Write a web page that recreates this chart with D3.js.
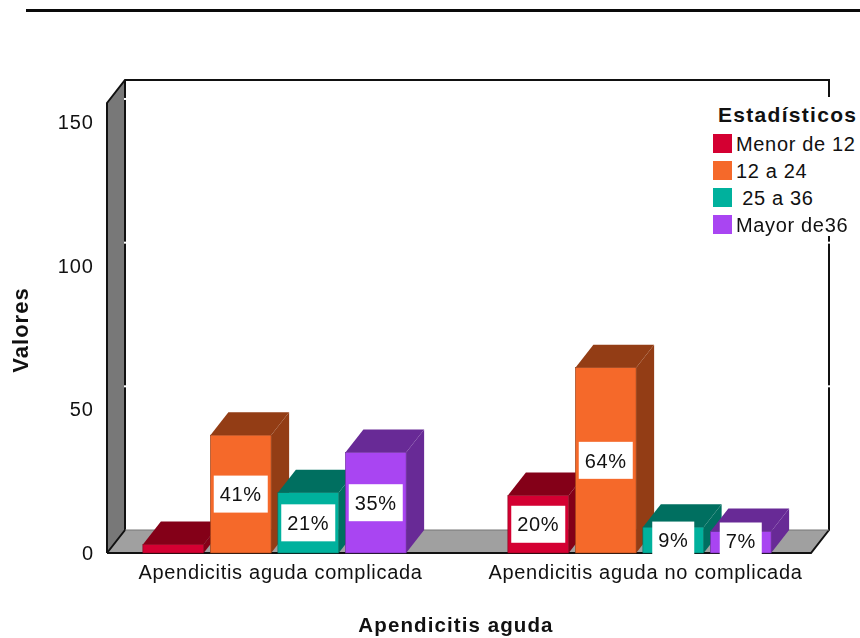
<!DOCTYPE html>
<html><head><meta charset="utf-8">
<script src="https://cdn.jsdelivr.net/npm/d3@7"></script>
<style>html,body{margin:0;padding:0;background:#fff}svg{display:block;filter:blur(0.4px)}text{font-family:"Liberation Sans",Arial,sans-serif;fill:#111}</style>
</head><body><svg id="c" width="860" height="638"></svg>
<script>
const categories = ["Apendicitis aguda complicada","Apendicitis aguda no complicada"];
const seriesNames = ["Menor de 12","12 a 24"," 25 a 36","Mayor de36"];
const menor12 = [3,20];
const de12a24 = [41,64.5];
const de25a36 = [21,9];
const mayor36 = [35,7.5];
const barLabels = [[null,"20%"],["41%","64%"],["21%","9%"],["35%","7%"]];
const seriesValues = [menor12,de12a24,de25a36,mayor36];
const frontColors = ["#d40032","#f5692a","#00b19d","#a945f2"];
const topColors = ["#840018","#933d15","#006f60","#682a96"];
const yTicks = [0,50,100,150];
const yAxisMax = 156.6;

const svg = d3.select("#c");
const dx = 18, dy = 23;
const y = d3.scaleLinear().domain([0,yAxisMax]).range([553,103]);
const x0 = d3.scaleBand().domain(categories).range([92,822]);
const x1 = d3.scaleBand().domain(d3.range(seriesNames.length)).range([0,270]).paddingInner(0.1).paddingOuter(0.05);
const L = 107, R = 811, B = y(0), T = y(yAxisMax);
const poly = p => p.map(q=>q.join(",")).join(" ");

// top rule
svg.append("rect").attr("x",26).attr("y",9).attr("width",834).attr("height",3).attr("fill","#0a0a0a");

// walls
svg.append("polygon").attr("points",poly([[L,T],[L+dx,T-dy],[L+dx,B-dy],[L,B]])).attr("fill","#787878");
svg.append("polygon").attr("points",poly([[L,B],[L+dx,B-dy],[R+dx,B-dy],[R,B]])).attr("fill","#a0a0a0");
const frame = svg.append("g").attr("fill","none").attr("stroke","#111").attr("stroke-width",2);
frame.append("path").attr("d",`M${L},${B}V${T}L${L+dx},${T-dy}H${R+dx}V${B-dy}L${R},${B}H${L}`);
frame.append("path").attr("d",`M${L+dx},${T-dy}V${B-dy}L${L},${B}`);
frame.append("path").attr("d",`M${L+dx},${B-dy}H${R+dx}`).attr("stroke-width",1).attr("stroke","#777");
// white grid ticks on the back wall edges
svg.append("g").selectAll("rect").data(yTicks.slice(1).flatMap(t=>[[L+dx,t],[R+dx,t]])).join("rect")
  .attr("x",d=>d[0]-1).attr("y",d=>y(d[1])-dy-1).attr("width",2).attr("height",2).attr("fill","#fff");

// bars
const bw = x1.bandwidth();
const bars = svg.append("g");
categories.forEach((cat,ci)=>{
  seriesValues.forEach((vals,si)=>{
    const xl = x0(cat)+x0.bandwidth()/2-135+x1(si), xr = xl+bw, yt = y(vals[ci]);
    bars.append("polygon").attr("points",poly([[xl,yt],[xl+dx,yt-dy],[xr+dx,yt-dy],[xr,yt]])).attr("fill",topColors[si]);
    bars.append("polygon").attr("points",poly([[xr,yt],[xr+dx,yt-dy],[xr+dx,B-dy],[xr,B]])).attr("fill",topColors[si]);
    bars.append("rect").attr("x",xl).attr("y",yt).attr("width",bw).attr("height",B-yt).attr("fill",frontColors[si]).attr("stroke",topColors[si]).attr("stroke-width",0.6);
  });
});
// bar labels
const labels = svg.append("g");
categories.forEach((cat,ci)=>{
  seriesValues.forEach((vals,si)=>{
    const s = barLabels[si][ci]; if(!s) return;
    const cx = x0(cat)+x0.bandwidth()/2-135+x1(si)+bw/2, cy = Math.min(y(vals[ci]/2), 541);
    const w = s.length===3?54:42, h=37;
    labels.append("rect").attr("x",cx-w/2).attr("y",cy-h/2).attr("width",w).attr("height",h).attr("fill","#fff");
    labels.append("text").attr("x",cx).attr("y",cy).attr("dy","0.36em").attr("text-anchor","middle").attr("font-size",20).attr("letter-spacing",0.6).text(s);
  });
});

// y axis
const ya = svg.append("g").attr("transform",`translate(${L},0)`).call(d3.axisLeft(y).tickValues(yTicks).tickSize(0).tickPadding(13));
ya.select(".domain").remove();
ya.selectAll("text").attr("font-size",20).attr("letter-spacing",1).style("font-family",'"Liberation Sans",Arial,sans-serif').attr("fill","#111");

// x axis labels
const xa = svg.append("g").attr("transform",`translate(6,${B})`).call(d3.axisBottom(x0).tickSize(0).tickPadding(12));
xa.select(".domain").remove();
xa.selectAll("text").attr("font-size",20).attr("letter-spacing",0.7).style("font-family",'"Liberation Sans",Arial,sans-serif').attr("fill","#111");

// axis titles
svg.append("text").attr("x",456).attr("y",632).attr("text-anchor","middle").attr("font-weight","bold").attr("font-size",20.5).attr("letter-spacing",1.1).text("Apendicitis aguda");
svg.append("text").attr("transform","translate(28,330) rotate(-90)").attr("text-anchor","middle").attr("font-weight","bold").attr("font-size",22).attr("letter-spacing",1).text("Valores");

// legend
svg.append("rect").attr("x",712).attr("y",97).attr("width",148).attr("height",139).attr("fill","#fff");
svg.append("text").attr("x",718).attr("y",122).attr("font-weight","bold").attr("font-size",21).attr("letter-spacing",1.3).text("Estadísticos");
const legendY = d3.scalePoint().domain(seriesNames).range([143,224]);
const lg = svg.append("g").selectAll("g").data(seriesNames).join("g").attr("transform",d=>`translate(713,${legendY(d)})`);
lg.append("rect").attr("x",0).attr("y",-9).attr("width",19).attr("height",19).attr("fill",(d,i)=>frontColors[i]);
lg.append("text").attr("x",23).attr("y",1).attr("dy","0.36em").attr("font-size",20).attr("letter-spacing",0.66).attr("xml:space","preserve").style("white-space","pre").text(d=>d);
</script></body></html>
